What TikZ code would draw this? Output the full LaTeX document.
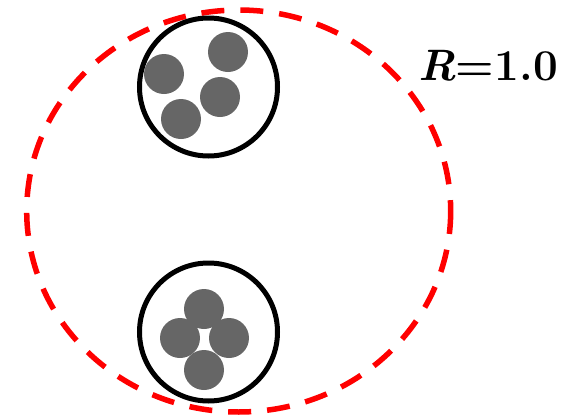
\documentclass[tikz,border=0pt]{standalone}
\begin{document}
\begin{tikzpicture}[x=1pt,y=-1pt,
  ball/.style={circle,fill=ballgray,draw=none,minimum size=40pt,inner sep=0pt},
  shell/.style={circle,draw=black,line width=5pt,minimum size=138pt,inner sep=0pt},
  bound/.style={draw=red,line width=5.5pt,dash pattern=on 23pt off 16pt}]
\definecolor{ballgray}{HTML}{666666}
\useasboundingbox (0,0) rectangle (566,418);
\draw[bound] (238.7,211) ellipse [x radius=212, y radius=201];
\node[shell] (top) at (208.5,87) {};
\node[shell] (bot) at (208.5,332) {};
\node[ball] (t1) at (228,52) {};
\node[ball] (t2) at (164,74) {};
\node[ball] (t3) at (220,97) {};
\node[ball] (t4) at (181,119) {};
\node[ball] (b1) at (204,309) {};
\node[ball] (b2) at (180,338) {};
\node[ball] (b3) at (229,338) {};
\node[ball] (b4) at (204,370) {};
\node[anchor=base west,inner sep=0pt,font=\fontsize{44}{44}\selectfont\bfseries] (lab) at (418,80) {\textit{R}=1.0};
\end{tikzpicture}
\end{document}
